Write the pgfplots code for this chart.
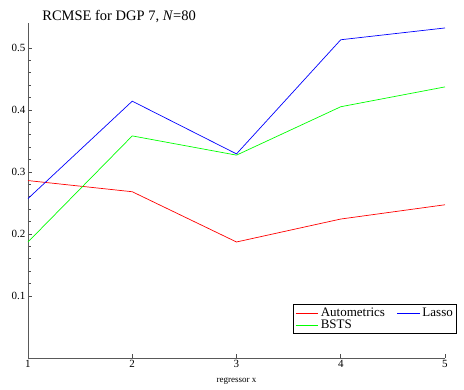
\documentclass[border=0pt]{standalone}
\usepackage{fontspec}
\setmainfont{Liberation Serif}
\usepackage{pgfplots}
\pgfplotsset{compat=1.18}
\begin{document}
\begin{tikzpicture}
\useasboundingbox (-28pt,-32pt) rectangle (436pt,358pt);
\begin{axis}[
  at={(0,0)}, anchor=origin,
  scale only axis,
  width=417pt, height=335pt,
  xmin=1, xmax=5, ymin=0, ymax=0.54,
  axis lines*=left,
  axis line style={draw=black!65, line width=0.9pt, -},
  xtick={1,2,3,4,5},
  ytick={0.1,0.2,0.3,0.4,0.5},
  minor y tick num=4,
  tick align=inside,
  major tick length=4pt, minor tick length=3pt,
  tick style={black!70, line width=0.6pt},
  /pgf/number format/assume math mode=true,
  /pgf/number format/fixed,
  ticklabel style={font=\fontsize{11}{12}\selectfont},
  xticklabel style={yshift=1pt},
  yticklabel style={xshift=1pt},
  xlabel={regressor x},
  xlabel style={font=\fontsize{9}{10}\selectfont, yshift=-3pt},
  legend columns=2,
  legend cell align=left,
  legend style={at={(1.028,0.161)}, anchor=north east, draw=black, line width=0.7pt,
    font=\fontsize{13}{12}\selectfont, inner sep=1.5pt, row sep=-2pt,
    /tikz/every even column/.append style={column sep=10pt}},
  legend image code/.code={\draw[#1] (0cm,0cm) -- (0.8cm,0cm);},
  clip=false,
]
\addplot[red, line width=0.7pt] coordinates {(1,0.286) (2,0.268) (3,0.187) (4,0.224) (5,0.247)};
\addlegendentry{Autometrics}
\addplot[blue, line width=0.7pt] coordinates {(1,0.257) (2,0.414) (3,0.329) (4,0.513) (5,0.532)};
\addlegendentry{Lasso}
\addplot[green, line width=0.7pt] coordinates {(1,0.187) (2,0.358) (3,0.327) (4,0.405) (5,0.437)};
\addlegendentry{BSTS}
\node[anchor=base west, font=\fontsize{14.5}{14}\selectfont] at (rel axis cs:0.026,1.006) {RCMSE for DGP 7, \textit{N}=80};
\end{axis}
\end{tikzpicture}
\end{document}
